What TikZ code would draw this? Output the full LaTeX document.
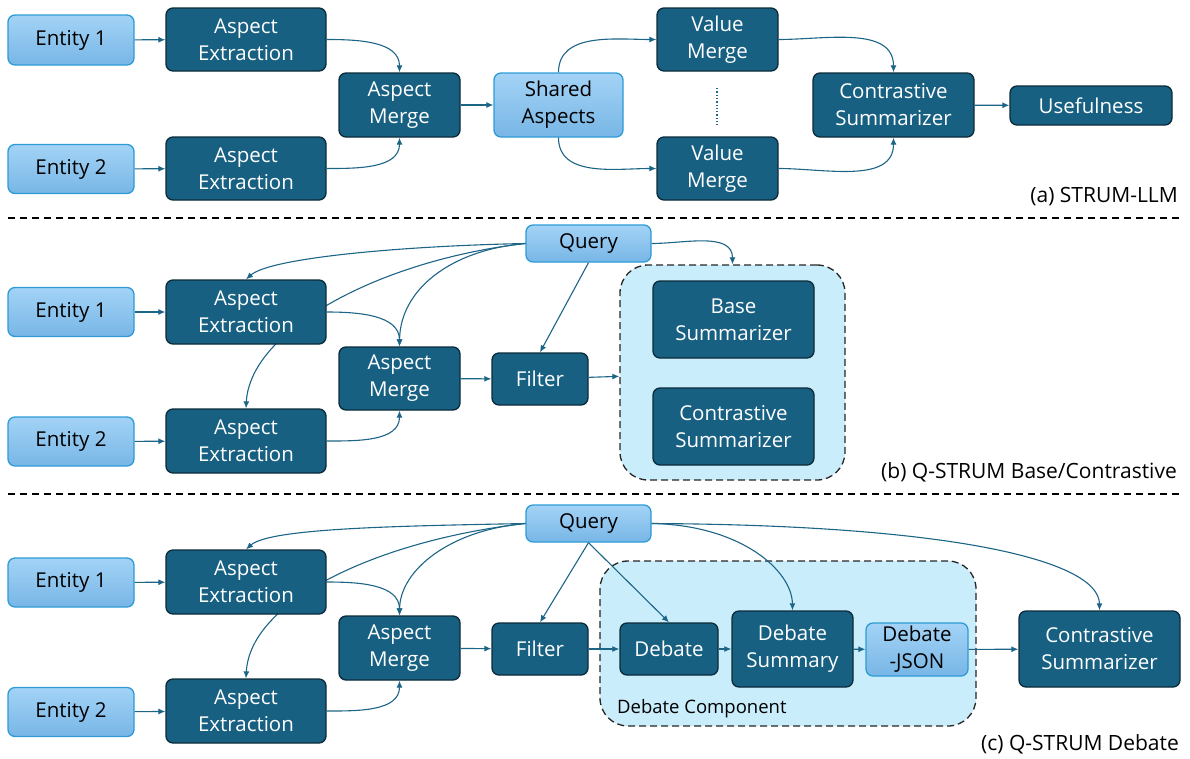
\documentclass[tikz,border=0pt]{standalone}
\usepackage{fontspec}
\setmainfont{Open Sans}
\usetikzlibrary{arrows.meta}
\definecolor{dk}{HTML}{176082}
\definecolor{dkb}{HTML}{0C2B3A}
\definecolor{lt1}{HTML}{A3D3F6}
\definecolor{lt2}{HTML}{78B6E6}
\definecolor{ltb}{HTML}{2E9BD6}
\definecolor{cont}{HTML}{C9EDFB}
\definecolor{arr}{HTML}{1D6586}
\tikzset{
  boxbase/.style={rounded corners=7pt, line width=1.3pt, align=center, inner sep=0pt,
    font=\fontsize{20.5}{27}\selectfont},
  dbox/.style={boxbase, fill=dk, draw=dkb, text=white},
  lbox/.style={boxbase, top color=lt1, bottom color=lt2, draw=ltb, text=black},
  sz/.style 2 args={minimum width=#1pt, minimum height=#2pt},
  conn/.style={draw=arr, line width=1.1pt, -{Latex[length=7pt,width=6pt]}},
  container/.style={draw=black!85, line width=1.3pt, dash pattern=on 7pt off 4pt,
    fill=cont, rounded corners=28pt, inner sep=0pt},
  divider/.style={draw=black, line width=1.5pt, dash pattern=on 7pt off 5pt},
  caption/.style={font=\fontsize{21}{24}\selectfont, inner sep=0pt}
}
\begin{document}
\begin{tikzpicture}[x=1pt,y=1pt]
\useasboundingbox (0,0) rectangle (1190,-758);

% ---------------- (a) ----------------
\node[lbox, sz={126}{50}] (e1a) at (71,-40) {Entity 1};
\node[lbox, sz={126}{49}] (e2a) at (71,-169) {Entity 2};
\node[dbox, sz={160}{63}] (ae1a) at (246,-39.5) {Aspect\\Extraction};
\node[dbox, sz={160}{63}] (ae2a) at (246,-168.5) {Aspect\\Extraction};
\node[dbox, sz={121}{64}] (ama) at (399.5,-105) {Aspect\\Merge};
\node[lbox, sz={129}{64}] (saa) at (558.5,-105) {Shared\\Aspects};
\node[dbox, sz={121}{63}] (vm1a) at (717.5,-39.5) {Value\\Merge};
\node[dbox, sz={121}{63}] (vm2a) at (717.5,-168.5) {Value\\Merge};
\node[dbox, sz={161}{64}] (csa) at (893.5,-105) {Contrastive\\Summarizer};
\node[dbox, sz={162}{39}] (usa) at (1091,-105.5) {Usefulness};
\draw[arr, line width=1.3pt, dotted] (717,-88) -- (717,-125);
\node[caption, anchor=east] (capa) at (1178,-197) {(a) STRUM-LLM};

\draw[conn] (e1a) -- (ae1a);
\draw[conn] (e2a) -- (ae2a);
\draw[conn] (ae1a.east) to[out=0,in=90] (ama.north);
\draw[conn] (ae2a.east) to[out=0,in=-90] (ama.south);
\draw[conn] (ama) -- (saa);
\draw[conn] (saa.north) to[out=90,in=180] (vm1a.west);
\draw[conn] (saa.south) to[out=-90,in=180] (vm2a.west);
\draw[conn] (vm1a.east) to[out=0,in=90] (csa.north);
\draw[conn] (vm2a.east) to[out=0,in=-90] (csa.south);
\draw[conn] (csa) -- (usa);

\draw[divider] (8,-218) -- (1182,-218);

% ---------------- (b) ----------------
\node[container, sz={225}{215}] (contb) at (732.5,-372.5) {};
\node[lbox, sz={125}{37}] (qb) at (588.5,-243.5) {Query};
\node[lbox, sz={126}{49}] (e1b) at (71,-312) {Entity 1};
\node[lbox, sz={126}{49}] (e2b) at (71,-441.5) {Entity 2};
\node[dbox, sz={160}{64}] (ae2b) at (246,-441) {Aspect\\Extraction};
\draw[conn] (qb.west) .. controls (380,-260) and (250,-330) .. (ae2b.north);
\node[dbox, sz={160}{64}] (ae1b) at (246,-312) {Aspect\\Extraction};
\node[dbox, sz={121}{63}] (amb) at (399.5,-378.5) {Aspect\\Merge};
\node[dbox, sz={96}{52}] (fib) at (540,-379) {Filter};
\node[dbox, sz={161}{77}] (bsb) at (733.5,-319.5) {Base\\Summarizer};
\node[dbox, sz={161}{77}] (csb) at (733.5,-426.5) {Contrastive\\Summarizer};
\node[caption, anchor=east] (capb) at (1177,-472) {(b) Q-STRUM Base/Contrastive};

\draw[conn] (e1b) -- (ae1b);
\draw[conn] (e2b) -- (ae2b);
\draw[conn] (ae1b.east) to[out=0,in=90] (amb.north);
\draw[conn] (ae2b.east) to[out=0,in=-90] (amb.south);
\draw[conn] (qb.west) .. controls (400,-246) and (270,-258) .. (ae1b.north);
\draw[conn] (qb.west) .. controls (450,-250) and (400,-290) .. (amb.north);
\draw[conn] (qb.south) -- (fib.north);
\draw[conn] (qb.east) to[out=0,in=90] (contb.north);
\draw[conn] (amb) -- (fib);
\draw[conn] (fib) -- (contb);

\draw[divider] (8,-494) -- (1182,-494);

% ---------------- (c) ----------------
\node[container, sz={376}{165}] (contc) at (788,-643.5) {};
\node[anchor=west, inner sep=0pt, font=\fontsize{18.5}{22}\selectfont] (dclab) at (617,-709) {Debate Component};
\node[lbox, sz={125}{37}] (qc) at (588.5,-523.5) {Query};
\node[lbox, sz={126}{49}] (e1c) at (71,-582.5) {Entity 1};
\node[lbox, sz={126}{49}] (e2c) at (71,-712) {Entity 2};
\node[dbox, sz={160}{64}] (ae2c) at (246,-711) {Aspect\\Extraction};
\draw[conn] (qc.west) .. controls (380,-540) and (250,-600) .. (ae2c.north);
\node[dbox, sz={160}{64}] (ae1c) at (246,-582) {Aspect\\Extraction};
\node[dbox, sz={121}{64}] (amc) at (399.5,-648) {Aspect\\Merge};
\node[dbox, sz={96}{52}] (fic) at (540,-649) {Filter};
\node[dbox, sz={98}{52}] (dbc) at (669,-649) {Debate};
\node[dbox, sz={121}{76}] (dsc) at (792.5,-649) {Debate\\Summary};
\node[lbox, sz={102}{53}] (djc) at (917,-649.5) {Debate\\-JSON};
\node[dbox, sz={161}{76}] (csc) at (1099.5,-649) {Contrastive\\Summarizer};
\node[caption, anchor=east] (capc) at (1179,-744) {(c) Q-STRUM Debate};

\draw[conn] (e1c) -- (ae1c);
\draw[conn] (e2c) -- (ae2c);
\draw[conn] (ae1c.east) to[out=0,in=90] (amc.north);
\draw[conn] (ae2c.east) to[out=0,in=-90] (amc.south);
\draw[conn] (qc.west) .. controls (400,-526) and (270,-528) .. (ae1c.north);
\draw[conn] (qc.west) .. controls (450,-530) and (400,-570) .. (amc.north);
\draw[conn] (qc.south) -- (fic.north);
\draw[conn] (qc.south) -- (dbc.north);
\draw[conn] (qc.east) .. controls (740,-525) and (792,-570) .. (dsc.north);
\draw[conn] (qc.east) .. controls (950,-525) and (1099,-560) .. (csc.north);
\draw[conn] (amc) -- (fic);
\draw[conn] (fic) -- (dbc);
\draw[conn] (dbc) -- (dsc);
\draw[conn] (dsc) -- (djc);
\draw[conn] (djc) -- (csc);
\end{tikzpicture}
\end{document}
